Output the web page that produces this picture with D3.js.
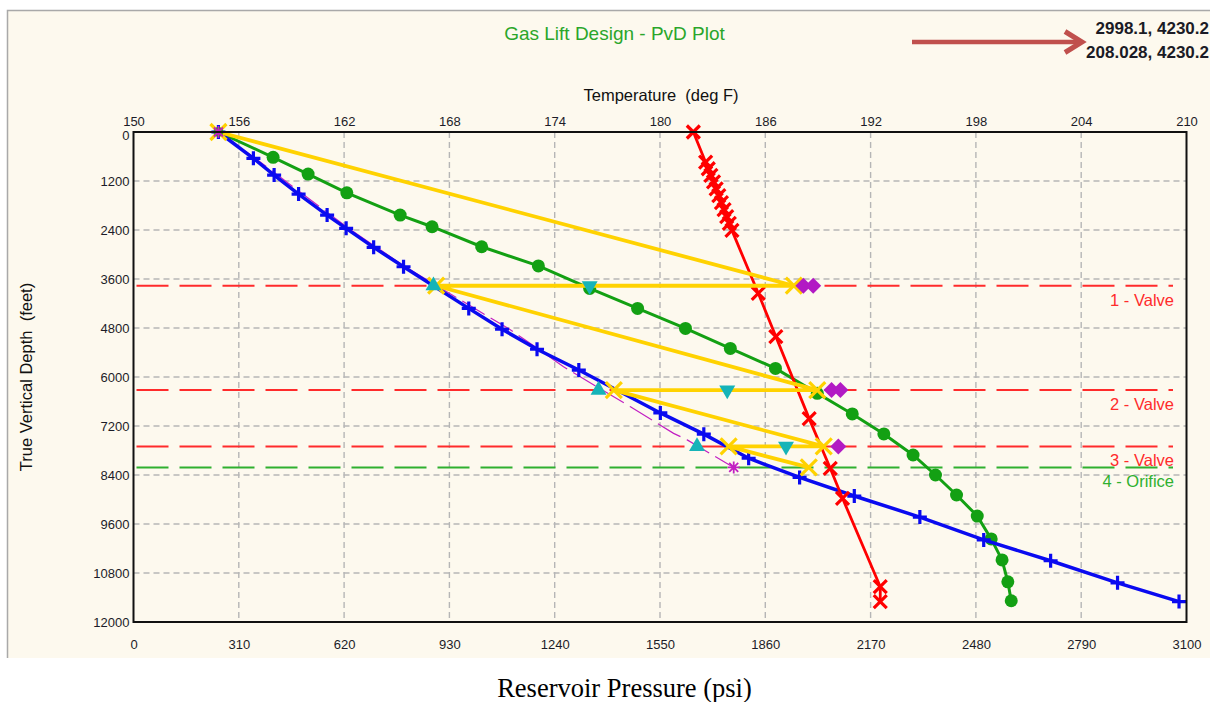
<!DOCTYPE html>
<html><head><meta charset="utf-8">
<script src="https://cdn.jsdelivr.net/npm/d3@7"></script>
<style>
body{margin:0;background:#fff}
svg{display:block}
</style>
</head><body>
<svg id="chart" width="1220" height="702"></svg>
<script>
// ---------- data ----------
const pressureTicks = [0,310,620,930,1240,1550,1860,2170,2480,2790,3100];
const temperatureTicks = [150,156,162,168,174,180,186,192,198,204,210];
const depthTicks = [0,1200,2400,3600,4800,6000,7200,8400,9600,10800,12000];

// blue "+" curve  [pressure psi, depth ft]
const bluePressureDepth = [[250,0],[353,645],[414,1055],[486,1520],[570,2035],[626,2360],[707,2825],[795,3300],[987,4320],[1085,4830],[1188,5320],[1311,5830],[1551,6880],[1679,7400],[1811,7990],[1961,8460],[2122,8915],[2315,9430],[2503,9990],[2700,10500],[2897,11040],[3078,11500]];
// thin magenta curve
const magentaPressureDepth = [[250,0],[358,640],[495,1500],[640,2400],[800,3300],[893,3765],[1000,4300],[1105,4820],[1190,5300],[1266,5750],[1463,6730],[1590,7380],[1630,7540],[1767,8215]];
// green circle curve
const greenPressureDepth = [[250,0],[411,620],[514,1030],[628,1490],[785,2035],[879,2320],[1025,2810],[1192,3280],[1343,3830],[1484,4320],[1625,4810],[1757,5300],[1890,5790],[2013,6400],[2116,6905],[2209,7395],[2295,7910],[2361,8400],[2423,8890],[2484,9405],[2525,9965],[2557,10480],[2574,11015],[2584,11480]];
// red temperature curve [deg F, depth ft]
const temperatureDepth = [[181.9,0],[182.6,740],[182.75,900],[182.9,1060],[183.05,1220],[183.2,1390],[183.35,1560],[183.5,1730],[183.65,1900],[183.8,2070],[183.95,2240],[184.1,2410],[185.6,3950],[186.6,5010],[188.5,7020],[189.7,8235],[190.4,8970],[192.55,11135],[192.55,11500]];
// yellow design path
const designPath = [[250,0],[1944,3765],[891,3765],[2013,6320],[1414,6320],[2032,7700],[1752,7700],[1988,8215]];
// cyan triangles
const upTriangles = [[883,3765],[1369,6320],[1659,7700]];
const downTriangles = [[1343,3765],[1748,6320],[1921,7700]];
// purple diamonds
const diamonds = [[1972,3765],[2001,3765],[2055,6320],[2081,6320],[2075,7700]];
// valve depths
const valveDepths = [3765,6320,7700,8215];
const valveLabels = ["1 - Valve","2 - Valve","3 - Valve","4 - Orifice"];
const valveKinds = ["valve","valve","valve","orifice"];
const readoutLines = ["2998.1, 4230.2","208.028, 4230.2"];

// ---------- drawing ----------
const FONT = '"Liberation Sans", Arial, sans-serif';
const svg = d3.select('#chart');
const x = d3.scaleLinear().domain([0,3100]).range([133.5,1186.5]);
const xT = d3.scaleLinear().domain([150,210]).range([133.5,1186.5]);
const y = d3.scaleLinear().domain([0,12000]).range([132,622]);
const [L,R] = x.range(), [T,B] = y.range();

// panel
svg.append('rect').attr('x',7).attr('y',10).attr('width',1203).attr('height',648).attr('fill','#fdf9ee');
svg.append('path').attr('d','M7.5,658V10.5H1210').attr('fill','none').attr('stroke','#a9a9a9').attr('stroke-width',1.5);

// title
svg.append('text').attr('x',614.5).attr('y',40).attr('text-anchor','middle')
  .attr('font-family',FONT).attr('font-size',19).attr('fill','#2aa62a').text('Gas Lift Design - PvD Plot');

// readout + arrow
svg.selectAll('text.ro').data(readoutLines).join('text').attr('class','ro')
  .attr('x',1209).attr('y',(d,i)=>34+i*23.5).attr('text-anchor','end')
  .attr('font-family',FONT).attr('font-weight','bold').attr('font-size',17).attr('fill','#1b1b25').text(d=>d);
svg.append('line').attr('x1',912).attr('y1',42).attr('x2',1078).attr('y2',42).attr('stroke','#c0504d').attr('stroke-width',4.5);
svg.append('path').attr('d','M1065,31.5L1082,42L1065,52.5').attr('fill','none').attr('stroke','#c0504d').attr('stroke-width',5).attr('stroke-linejoin','miter');

// axis titles
svg.append('text').attr('x',661).attr('y',101).attr('text-anchor','middle')
  .attr('font-family',FONT).attr('font-size',16.5).attr('fill','#111').attr('xml:space','preserve').text('Temperature  (deg F)');
svg.append('text').attr('transform','translate(32,377) rotate(-90)').attr('text-anchor','middle')
  .attr('font-family',FONT).attr('font-size',16.5).attr('fill','#111').attr('xml:space','preserve').text('True Vertical Depth  (feet)');
svg.append('text').attr('x',624.5).attr('y',697).attr('text-anchor','middle')
  .attr('font-family','"Liberation Serif","Times New Roman",serif').attr('font-size',26.5).attr('fill','#000').text('Reservoir Pressure (psi)');

// grid
const grid = svg.append('g');
grid.selectAll('line.v').data(pressureTicks.slice(1,-1)).join('line').attr('class','v')
  .attr('x1',d=>x(d)).attr('x2',d=>x(d)).attr('y1',T).attr('y2',B)
  .attr('stroke','#b6b6b6').attr('stroke-width',1.4).attr('stroke-dasharray','6,4');
grid.selectAll('line.h').data(depthTicks.slice(1,-1)).join('line').attr('class','h')
  .attr('x1',L).attr('x2',R).attr('y1',d=>y(d)).attr('y2',d=>y(d))
  .attr('stroke','#b6b6b6').attr('stroke-width',1.4).attr('stroke-dasharray','6,4');

// axes (labels)
const fmt = d3.format('d');
function styleAxis(g){ g.select('.domain').remove(); g.attr('font-family',FONT).attr('font-size',13); g.selectAll('text').attr('fill','#1c1c28'); }
svg.append('g').attr('transform',`translate(0,${B})`).call(d3.axisBottom(x).tickValues(pressureTicks).tickFormat(fmt).tickSize(0).tickPadding(18)).call(styleAxis);
svg.append('g').attr('transform',`translate(0,${T})`).call(d3.axisTop(xT).tickValues(temperatureTicks).tickFormat(fmt).tickSize(0).tickPadding(6)).call(styleAxis);
const gl = svg.append('g').attr('transform',`translate(${L},0)`).call(d3.axisLeft(y).tickValues(depthTicks).tickFormat(fmt).tickSize(0).tickPadding(4)).call(styleAxis);
gl.selectAll('text').filter(d=>d===0).attr('dy','0.6em');

// valve lines
const vColor = k => k==='valve' ? '#ff2b2b' : '#2fb02f';
svg.selectAll('line.valve').data(valveDepths).join('line').attr('class','valve')
  .attr('x1',L+3).attr('x2',1173).attr('y1',d=>y(d)).attr('y2',d=>y(d))
  .attr('stroke',(d,i)=>vColor(valveKinds[i])).attr('stroke-width',2).attr('stroke-dasharray','32,11');
svg.selectAll('text.valve').data(valveDepths).join('text').attr('class','valve')
  .attr('x',1174).attr('y',d=>y(d)+20).attr('text-anchor','end')
  .attr('font-family',FONT).attr('font-size',16.5).attr('fill',(d,i)=>vColor(valveKinds[i])).text((d,i)=>valveLabels[i]);

const line = d3.line().x(d=>x(d[0])).y(d=>y(d[1]));
const lineT = d3.line().x(d=>xT(d[0])).y(d=>y(d[1]));
const plot = svg.append('g');

// green
plot.append('path').attr('d',line(greenPressureDepth)).attr('fill','none').attr('stroke','#13a013').attr('stroke-width',3);
plot.selectAll('circle.g').data(greenPressureDepth.slice(1)).join('circle').attr('class','g')
  .attr('cx',d=>x(d[0])).attr('cy',d=>y(d[1])).attr('r',6.5).attr('fill','#13a013');

// magenta thin
plot.append('path').attr('d',line(magentaPressureDepth)).attr('fill','none').attr('stroke','#c21fc2').attr('stroke-width',1.2).attr('stroke-dasharray','26,7');

// blue
plot.append('path').attr('d',line(bluePressureDepth)).attr('fill','none').attr('stroke','#0a0af0').attr('stroke-width',3.5);
plot.selectAll('path.plus').data(bluePressureDepth).join('path').attr('class','plus')
  .attr('transform',d=>`translate(${x(d[0])},${y(d[1])})`).attr('d','M-7,0H7M0,-7V7')
  .attr('stroke','#0a0af0').attr('stroke-width',3.2);

// red temperature
plot.append('path').attr('d',lineT(temperatureDepth)).attr('fill','none').attr('stroke','#ff0000').attr('stroke-width',2.8);
plot.selectAll('path.rx').data(temperatureDepth).join('path').attr('class','rx')
  .attr('transform',d=>`translate(${xT(d[0])},${y(d[1])})`).attr('d','M-6.5,-6.5L6.5,6.5M-6.5,6.5L6.5,-6.5')
  .attr('stroke','#ff0000').attr('stroke-width',3.2);

// yellow design
plot.append('path').attr('d',line(designPath)).attr('fill','none').attr('stroke','#ffd200').attr('stroke-width',3.8);
plot.selectAll('path.yx').data(designPath).join('path').attr('class','yx')
  .attr('transform',d=>`translate(${x(d[0])},${y(d[1])})`).attr('d','M-8,-8L8,8M-8,8L8,-8')
  .attr('stroke','#ffd200').attr('stroke-width',3.2);

// green marker at the common start point, then magenta asterisks at ends
plot.append('circle').attr('cx',x(greenPressureDepth[0][0])).attr('cy',y(greenPressureDepth[0][1])).attr('r',5).attr('fill','#13a013').attr('opacity',0.8);
const ast = 'M-6,0H6M0,-6V6M-4.5,-4.5L4.5,4.5M-4.5,4.5L4.5,-4.5';
plot.selectAll('path.ast').data([magentaPressureDepth[0], magentaPressureDepth[magentaPressureDepth.length-1]]).join('path').attr('class','ast')
  .attr('transform',d=>`translate(${x(d[0])},${y(d[1])})`).attr('d',ast).attr('stroke','#c21fc2').attr('stroke-width',1.8);

// cyan triangles
const tri = d3.symbol().type(d3.symbolTriangle).size(110)();
plot.selectAll('path.up').data(upTriangles).join('path').attr('class','up')
  .attr('transform',d=>`translate(${x(d[0])},${y(d[1])})`).attr('d',tri).attr('fill','#16b4b8');
plot.selectAll('path.dn').data(downTriangles).join('path').attr('class','dn')
  .attr('transform',d=>`translate(${x(d[0])},${y(d[1])}) rotate(180)`).attr('d',tri).attr('fill','#16b4b8');

// purple diamonds
plot.selectAll('path.dia').data(diamonds).join('path').attr('class','dia')
  .attr('transform',d=>`translate(${x(d[0])},${y(d[1])})`).attr('d','M0,-8L8,0L0,8L-8,0Z').attr('fill','#b21ac4');

// frame
svg.append('rect').attr('x',L).attr('y',T).attr('width',R-L).attr('height',B-T)
  .attr('fill','none').attr('stroke','#111').attr('stroke-width',2);
</script>
</body></html>
